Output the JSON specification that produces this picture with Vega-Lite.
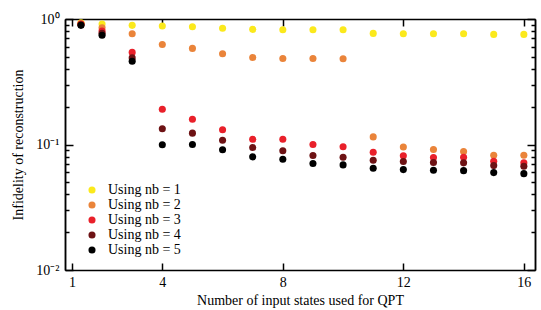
{
  "$schema": "https://vega.github.io/schema/vega-lite/v6.json",
  "width": 470,
  "height": 251,
  "autosize": {"type": "none"},
  "padding": {"left": 65, "top": 19, "right": 6, "bottom": 40},
  "background": "white",
  "config": {
    "view": {"stroke": null},
    "font": "Liberation Serif",
    "axis": {"grid": false, "domainColor": "black", "domainWidth": 1.5, "tickColor": "black", "tickWidth": 1.5, "labelFont": "Liberation Serif", "titleFont": "Liberation Serif", "labelFontSize": 14, "titleFontSize": 14, "titleFontWeight": "normal", "labelColor": "black", "titleColor": "black"}
  },
  "data": {"values": [
    {"n": 1.3, "s": "Using nb = 1", "v": 0.934},
    {"n": 2, "s": "Using nb = 1", "v": 0.912},
    {"n": 3, "s": "Using nb = 1", "v": 0.890},
    {"n": 4, "s": "Using nb = 1", "v": 0.879},
    {"n": 5, "s": "Using nb = 1", "v": 0.868},
    {"n": 6, "s": "Using nb = 1", "v": 0.843},
    {"n": 7, "s": "Using nb = 1", "v": 0.827},
    {"n": 8, "s": "Using nb = 1", "v": 0.821},
    {"n": 9, "s": "Using nb = 1", "v": 0.821},
    {"n": 10, "s": "Using nb = 1", "v": 0.821},
    {"n": 11, "s": "Using nb = 1", "v": 0.768},
    {"n": 12, "s": "Using nb = 1", "v": 0.763},
    {"n": 13, "s": "Using nb = 1", "v": 0.763},
    {"n": 14, "s": "Using nb = 1", "v": 0.763},
    {"n": 15, "s": "Using nb = 1", "v": 0.754},
    {"n": 16, "s": "Using nb = 1", "v": 0.754},
    {"n": 1.3, "s": "Using nb = 2", "v": 0.92},
    {"n": 2, "s": "Using nb = 2", "v": 0.85},
    {"n": 3, "s": "Using nb = 2", "v": 0.763},
    {"n": 4, "s": "Using nb = 2", "v": 0.627},
    {"n": 5, "s": "Using nb = 2", "v": 0.583},
    {"n": 6, "s": "Using nb = 2", "v": 0.528},
    {"n": 7, "s": "Using nb = 2", "v": 0.494},
    {"n": 8, "s": "Using nb = 2", "v": 0.485},
    {"n": 9, "s": "Using nb = 2", "v": 0.485},
    {"n": 10, "s": "Using nb = 2", "v": 0.482},
    {"n": 11, "s": "Using nb = 2", "v": 0.115},
    {"n": 12, "s": "Using nb = 2", "v": 0.0955},
    {"n": 13, "s": "Using nb = 2", "v": 0.0912},
    {"n": 14, "s": "Using nb = 2", "v": 0.088},
    {"n": 15, "s": "Using nb = 2", "v": 0.0821},
    {"n": 16, "s": "Using nb = 2", "v": 0.0821},
    {"n": 1.3, "s": "Using nb = 3", "v": 0.91},
    {"n": 2, "s": "Using nb = 3", "v": 0.802},
    {"n": 3, "s": "Using nb = 3", "v": 0.542},
    {"n": 4, "s": "Using nb = 3", "v": 0.191},
    {"n": 5, "s": "Using nb = 3", "v": 0.159},
    {"n": 6, "s": "Using nb = 3", "v": 0.131},
    {"n": 7, "s": "Using nb = 3", "v": 0.110},
    {"n": 8, "s": "Using nb = 3", "v": 0.110},
    {"n": 9, "s": "Using nb = 3", "v": 0.100},
    {"n": 10, "s": "Using nb = 3", "v": 0.0958},
    {"n": 11, "s": "Using nb = 3", "v": 0.0868},
    {"n": 12, "s": "Using nb = 3", "v": 0.0812},
    {"n": 13, "s": "Using nb = 3", "v": 0.0787},
    {"n": 14, "s": "Using nb = 3", "v": 0.0791},
    {"n": 15, "s": "Using nb = 3", "v": 0.0735},
    {"n": 16, "s": "Using nb = 3", "v": 0.0714},
    {"n": 1.3, "s": "Using nb = 4", "v": 0.90},
    {"n": 2, "s": "Using nb = 4", "v": 0.77},
    {"n": 3, "s": "Using nb = 4", "v": 0.49},
    {"n": 4, "s": "Using nb = 4", "v": 0.1335},
    {"n": 5, "s": "Using nb = 4", "v": 0.1232},
    {"n": 6, "s": "Using nb = 4", "v": 0.1082},
    {"n": 7, "s": "Using nb = 4", "v": 0.0946},
    {"n": 8, "s": "Using nb = 4", "v": 0.0891},
    {"n": 9, "s": "Using nb = 4", "v": 0.0817},
    {"n": 10, "s": "Using nb = 4", "v": 0.0791},
    {"n": 11, "s": "Using nb = 4", "v": 0.0749},
    {"n": 12, "s": "Using nb = 4", "v": 0.0731},
    {"n": 13, "s": "Using nb = 4", "v": 0.0718},
    {"n": 14, "s": "Using nb = 4", "v": 0.0714},
    {"n": 15, "s": "Using nb = 4", "v": 0.0679},
    {"n": 16, "s": "Using nb = 4", "v": 0.0671},
    {"n": 1.3, "s": "Using nb = 5", "v": 0.890},
    {"n": 2, "s": "Using nb = 5", "v": 0.741},
    {"n": 3, "s": "Using nb = 5", "v": 0.461},
    {"n": 4, "s": "Using nb = 5", "v": 0.0995},
    {"n": 5, "s": "Using nb = 5", "v": 0.100},
    {"n": 6, "s": "Using nb = 5", "v": 0.0907},
    {"n": 7, "s": "Using nb = 5", "v": 0.0797},
    {"n": 8, "s": "Using nb = 5", "v": 0.0763},
    {"n": 9, "s": "Using nb = 5", "v": 0.0705},
    {"n": 10, "s": "Using nb = 5", "v": 0.0688},
    {"n": 11, "s": "Using nb = 5", "v": 0.0646},
    {"n": 12, "s": "Using nb = 5", "v": 0.0631},
    {"n": 13, "s": "Using nb = 5", "v": 0.0623},
    {"n": 14, "s": "Using nb = 5", "v": 0.0619},
    {"n": 15, "s": "Using nb = 5", "v": 0.0597},
    {"n": 16, "s": "Using nb = 5", "v": 0.0586}
  ]},
  "resolve": {"axis": {"x": "independent", "y": "independent"}},
  "layer": [
    {
      "mark": {"type": "point", "filled": true, "opacity": 0},
      "encoding": {
        "x": {"field": "n", "type": "quantitative", "scale": {"domain": [0.77, 16.37], "nice": false, "zero": false},
          "axis": {"orient": "top", "values": [1, 4, 8, 12, 16], "labels": false, "tickSize": -7, "title": null, "domainWidth": 1.5}},
        "y": {"field": "v", "type": "quantitative", "scale": {"type": "log", "domain": [0.01, 1], "nice": false},
          "axis": {"orient": "left", "values": [0.02,0.03,0.04,0.05,0.06,0.07,0.08,0.09,0.2,0.3,0.4,0.5,0.6,0.7,0.8,0.9], "labels": false, "tickSize": -4, "title": null}}
      }
    },
    {
      "mark": {"type": "point", "filled": true, "opacity": 0},
      "encoding": {
        "x": {"field": "n", "type": "quantitative", "axis": null},
        "y": {"field": "v", "type": "quantitative",
          "axis": {"orient": "right", "values": [0.01, 0.1, 1], "labels": false, "tickSize": -8, "title": null}}
      }
    },
    {
      "mark": {"type": "point", "filled": true, "opacity": 0},
      "encoding": {
        "x": {"field": "n", "type": "quantitative", "axis": null},
        "y": {"field": "v", "type": "quantitative",
          "axis": {"orient": "right", "values": [0.02,0.03,0.04,0.05,0.06,0.07,0.08,0.09,0.2,0.3,0.4,0.5,0.6,0.7,0.8,0.9], "labels": false, "tickSize": -4, "title": null}}
      }
    },
    {
      "mark": {"type": "point", "filled": true, "opacity": 1, "size": 50},
      "encoding": {
        "x": {"field": "n", "type": "quantitative",
          "axis": {"orient": "bottom", "values": [1, 4, 8, 12, 16], "tickSize": -7, "labelPadding": 12, "title": "Number of input states used for QPT", "titlePadding": 4}},
        "y": {"field": "v", "type": "quantitative",
          "axis": {"orient": "left", "values": [0.01, 0.1, 1], "tickSize": -8, "labelPadding": 14,
            "labelExpr": "datum.value >= 1 ? '10⁰' : datum.value >= 0.1 ? '10⁻¹' : '10⁻²'",
            "title": "Infidelity of reconstruction", "titlePadding": 10}},
        "color": {"field": "s", "type": "nominal",
          "scale": {"domain": ["Using nb = 1", "Using nb = 2", "Using nb = 3", "Using nb = 4", "Using nb = 5"],
            "range": ["#fbe91c", "#ea843a", "#e9202a", "#6d1214", "#000000"]},
          "legend": {"orient": "none", "legendX": 20, "legendY": 164, "title": null, "symbolType": "circle", "symbolSize": 50, "symbolOpacity": 1,
            "labelFont": "Liberation Serif", "labelFontSize": 14, "labelColor": "black", "rowPadding": 1, "labelOffset": 9, "padding": 0}}
      }
    }
  ]
}
